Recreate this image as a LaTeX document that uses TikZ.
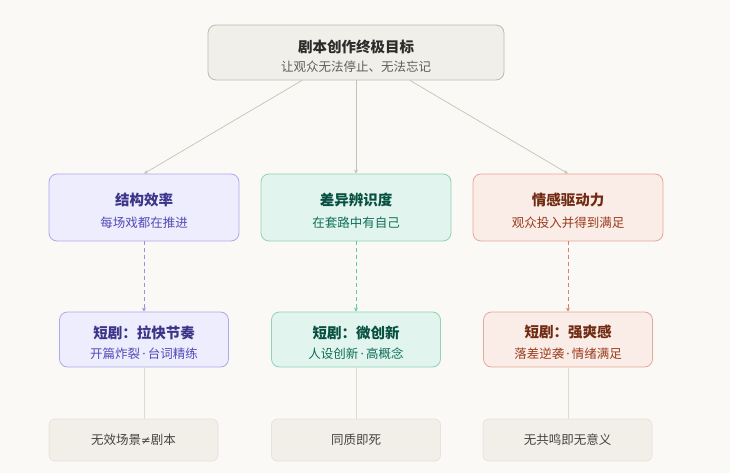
\documentclass[tikz,border=0pt]{standalone}
\usepackage{fontspec}
\setmainfont{Noto Sans CJK SC}
\newfontfamily\latinf{Noto Sans}
\newfontfamily\symf{DejaVu Sans}
\newcommand{\mdot}{\,{\latinf ·}\,}
\usetikzlibrary{arrows.meta,calc}
\definecolor{bg}{HTML}{FAF9F5}
\definecolor{topfill}{HTML}{F0EFEA}
\definecolor{topdraw}{HTML}{BDBAB0}
\definecolor{toptitle}{HTML}{2C2C2A}
\definecolor{topsub}{HTML}{5F5E5A}
\definecolor{pfill}{HTML}{EEEDFE}
\definecolor{pdraw}{HTML}{AFA9EC}
\definecolor{ptitle}{HTML}{3C3489}
\definecolor{psub}{HTML}{534AB7}
\definecolor{parrow}{HTML}{9A93E0}
\definecolor{gfill}{HTML}{E1F5EE}
\definecolor{gdraw}{HTML}{8ED3B8}
\definecolor{gtitle}{HTML}{085041}
\definecolor{gsub}{HTML}{0F6E56}
\definecolor{garrow}{HTML}{5DCAA5}
\definecolor{cfill}{HTML}{FAECE7}
\definecolor{cdraw}{HTML}{E8A898}
\definecolor{ctitle}{HTML}{712B13}
\definecolor{csub}{HTML}{993C1D}
\definecolor{carrow}{HTML}{D9826A}
\definecolor{bfill}{HTML}{F1EFE8}
\definecolor{bdraw}{HTML}{E6E3DA}
\definecolor{btext}{HTML}{444441}
\definecolor{graylink}{HTML}{C4C2B8}
\definecolor{lightlink}{HTML}{DDDAD2}
\begin{document}
\begin{tikzpicture}[x=1pt,y=-1pt,
  box/.style={rounded corners=8pt, line width=0.8pt, inner sep=0pt},
  titletext/.style={font=\fontsize{14.5}{16}\selectfont\bfseries, inner sep=0pt},
  subtext/.style={font=\fontsize{12.5}{14}\selectfont, inner sep=0pt},
  bottext/.style={font=\fontsize{12.5}{14}\selectfont, inner sep=0pt, text=btext},
  toparrow/.style={draw=graylink, line width=0.7pt, -{Stealth[length=4pt,width=4pt]}},
  dasharrow/.style={line width=0.8pt, dash pattern=on 4pt off 3pt, -{Stealth[length=4pt,width=4pt]}},
  plainlink/.style={draw=lightlink, line width=0.7pt}
]
\useasboundingbox[fill=bg] (0,0) rectangle (730,473);

% top box
\node[box, draw=topdraw, fill=topfill, minimum width=296pt, minimum height=55pt] (top) at (356,52.5) {};
\node[titletext, text=toptitle] (toptitle) at (356,46.5) {剧本创作终极目标};
\node[subtext, text=topsub] (topsub) at (356,67) {让观众无法停止、无法忘记};

% row 2
\node[box, draw=pdraw, fill=pfill, minimum width=190pt, minimum height=67pt] (r2a) at (144,207.5) {};
\node[titletext, text=ptitle] (r2at) at (144,200) {结构效率};
\node[subtext, text=psub] (r2as) at (144,222.5) {每场戏都在推进};

\node[box, draw=gdraw, fill=gfill, minimum width=190pt, minimum height=67pt] (r2b) at (356,207.5) {};
\node[titletext, text=gtitle] (r2bt) at (356,200) {差异辨识度};
\node[subtext, text=gsub] (r2bs) at (356,222.5) {在套路中有自己};

\node[box, draw=cdraw, fill=cfill, minimum width=190pt, minimum height=67pt] (r2c) at (568,207.5) {};
\node[titletext, text=ctitle] (r2ct) at (568,200) {情感驱动力};
\node[subtext, text=csub] (r2cs) at (568,222.5) {观众投入并得到满足};

% row 3
\node[box, draw=pdraw, fill=pfill, minimum width=169pt, minimum height=55pt] (r3a) at (144,339.5) {};
\node[titletext, text=ptitle] (r3at) at (144,332.5) {短剧：拉快节奏};
\node[subtext, text=psub] (r3as) at (144,353.5) {开篇炸裂\mdot 台词精练};

\node[box, draw=gdraw, fill=gfill, minimum width=169pt, minimum height=55pt] (r3b) at (356,339.5) {};
\node[titletext, text=gtitle] (r3bt) at (356,332.5) {短剧：微创新};
\node[subtext, text=gsub] (r3bs) at (356,353.5) {人设创新\mdot 高概念};

\node[box, draw=cdraw, fill=cfill, minimum width=169pt, minimum height=55pt] (r3c) at (568,339.5) {};
\node[titletext, text=ctitle] (r3ct) at (568,332.5) {短剧：强爽感};
\node[subtext, text=csub] (r3cs) at (568,353.5) {落差逆袭\mdot 情绪满足};

% row 4
\node[box, rounded corners=6pt, draw=bdraw, fill=bfill, minimum width=169pt, minimum height=42pt] (r4a) at (133.5,440) {};
\node[bottext] (r4at) at (133.5,440) {无效场景{\symf\fontsize{11.5}{12}\selectfont ≠}剧本};
\node[box, rounded corners=6pt, draw=bdraw, fill=bfill, minimum width=169pt, minimum height=42pt] (r4b) at (356,440) {};
\node[bottext] (r4bt) at (356,440) {同质即死};
\node[box, rounded corners=6pt, draw=bdraw, fill=bfill, minimum width=169pt, minimum height=42pt] (r4c) at (567.5,440) {};
\node[bottext] (r4ct) at (567.5,440) {无共鸣即无意义};

% connectors
\coordinate (tl) at ($(top.south)+(-54,0)$);
\coordinate (tr) at ($(top.south)+(54,0)$);
\draw[toparrow] (tl) -- (r2a.north);
\draw[toparrow] (top.south) -- (r2b.north);
\draw[toparrow] (tr) -- (r2c.north);

\draw[dasharrow, draw=parrow] (r2a.south) -- (r3a.north);
\draw[dasharrow, draw=garrow] (r2b.south) -- (r3b.north);
\draw[dasharrow, draw=carrow] (r2c.south) -- (r3c.north);

\draw[plainlink] (r3a.south) -- (r3a.south |- r4a.north);
\draw[plainlink] (r3b.south) -- (r3b.south |- r4b.north);
\draw[plainlink] (r3c.south) -- (r3c.south |- r4c.north);
\end{tikzpicture}
\end{document}
